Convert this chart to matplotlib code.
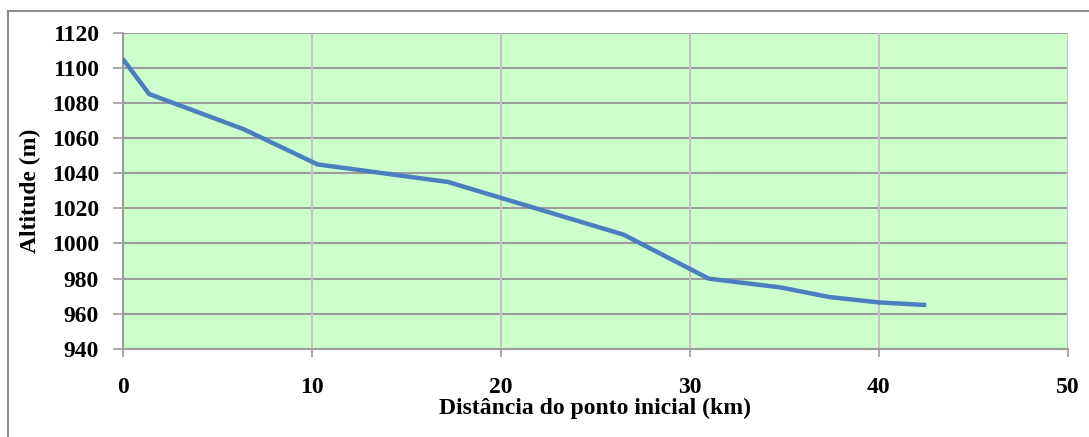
import matplotlib
matplotlib.use("Agg")
import matplotlib.pyplot as plt
from matplotlib.lines import Line2D

# distance from starting point (km) and altitude (m)
distance_km = [0.0, 1.4, 6.4, 10.3, 17.2, 26.5, 31.0, 34.8, 37.4, 40.0, 42.5]
altitude_m = [1105, 1085, 1065, 1045, 1035, 1005, 980, 975, 969.5, 966.5, 965]

x_ticks = [0, 10, 20, 30, 40, 50]
y_ticks = [940, 960, 980, 1000, 1020, 1040, 1060, 1080, 1100, 1120]

plt.rcParams["font.family"] = ["Liberation Serif", "DejaVu Serif"]
plt.rcParams["font.weight"] = "bold"

fig = plt.figure(figsize=(10.89, 4.37), dpi=100)
ax = fig.add_axes([0.1127, 0.2014, 0.9807 - 0.1127, 0.9256 - 0.2014])
ax.set_facecolor("#ccffcc")

# outer chart frame (only top and left edges visible)
fig.add_artist(Line2D([8 / 1089, 1.0], [1 - 11 / 437, 1 - 11 / 437],
                      transform=fig.transFigure, color="#8c8c8c", lw=1.5))
fig.add_artist(Line2D([8 / 1089, 8 / 1089], [1 - 11 / 437, 0.0],
                      transform=fig.transFigure, color="#8c8c8c", lw=1.5))

for y in y_ticks:
    ax.axhline(y, color="#9c9c9c", lw=1.5, zorder=1)
for x in x_ticks:
    ax.axvline(x, color="#c4c4c4", lw=1.5, zorder=1)

ax.plot(distance_km, altitude_m, color="#4a7ebf", lw=3.2, zorder=3,
        solid_joinstyle="round", solid_capstyle="butt")

ax.set_xlim(0, 50)
ax.set_ylim(940, 1120)
ax.set_xticks(x_ticks)
ax.set_yticks(y_ticks)

for side in ("top", "right"):
    ax.spines[side].set_visible(False)
ax.spines["left"].set_color("#9c9c9c")
ax.spines["bottom"].set_color("#9c9c9c")
ax.spines["left"].set_linewidth(1.5)
ax.spines["bottom"].set_linewidth(1.5)

ax.tick_params(axis="x", length=6, width=1.2, color="#9c9c9c", pad=14, labelsize=17)
ax.tick_params(axis="y", length=7, width=1.2, color="#9c9c9c", pad=10, labelsize=17)
for lbl in ax.get_xticklabels() + ax.get_yticklabels():
    lbl.set_fontweight("bold")

ax.set_xlabel("Distância do ponto inicial (km)", fontsize=17, fontweight="bold", labelpad=0)
ax.set_ylabel("Altitude (m)", fontsize=17, fontweight="bold", labelpad=8)

fig.savefig("out.png", dpi=100)
plt.close(fig)
